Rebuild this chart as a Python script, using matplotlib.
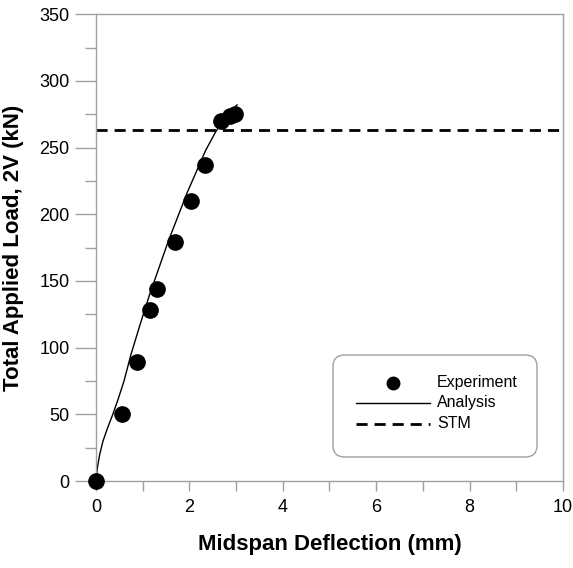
import matplotlib.pyplot as plt
from matplotlib.ticker import MultipleLocator
from matplotlib.lines import Line2D
from matplotlib.patches import FancyBboxPatch

plt.rcParams['font.family'] = ['Liberation Sans', 'DejaVu Sans']

# experiment points (deflection mm, load kN)
exp_defl = [0.0, 0.55, 0.88, 1.16, 1.31, 1.69, 2.03, 2.33, 2.68, 2.87, 2.98]
exp_load = [0.0, 50, 89, 128, 144, 179, 210, 237, 270, 274, 275]

# analysis curve
ana_defl = [0.0, 0.03, 0.08, 0.15, 0.25, 0.36, 0.48, 0.6, 0.75, 0.95, 1.15,
            1.35, 1.55, 1.75, 1.95, 2.15, 2.35, 2.55, 2.75, 3.02]
ana_load = [0.0, 10, 20, 30, 40, 50, 62, 75, 95, 118, 140,
            160, 180, 198, 216, 232, 248, 261, 272, 282]

# strut-and-tie model load
stm_load = 263

fig = plt.figure(figsize=(5.73, 5.68), dpi=100)
ax = fig.add_axes([0.1675, 0.153, 0.815, 0.822])

ax.plot(ana_defl, ana_load, color='black', lw=1.0, zorder=2)
ax.axhline(stm_load, color='black', lw=2.0, ls=(0, (4, 2.5)), zorder=2)
ax.plot(exp_defl, exp_load, 'o', color='black', ms=11, zorder=3, clip_on=False)

ax.set_xlim(0, 10)
ax.set_ylim(0, 350)
ax.xaxis.set_major_locator(MultipleLocator(2))
ax.xaxis.set_minor_locator(MultipleLocator(1))
ax.yaxis.set_major_locator(MultipleLocator(50))
ax.yaxis.set_minor_locator(MultipleLocator(25))

for s in ax.spines.values():
    s.set_color('#a0a0a0')
    s.set_linewidth(1.0)

ax.tick_params(axis='y', which='major', direction='out', length=15, width=1,
               color='#a0a0a0', labelsize=13, pad=4)
ax.tick_params(axis='y', which='minor', direction='out', length=8, width=1,
               color='#a0a0a0')
ax.tick_params(axis='x', which='major', direction='out', length=7, width=1,
               color='#a0a0a0', labelsize=13, pad=6)
ax.tick_params(axis='x', which='minor', direction='out', length=7, width=1,
               color='#a0a0a0')

ax.set_xlabel('Midspan Deflection (mm)', fontsize=16, fontweight='bold', labelpad=13)
ax.set_ylabel('Total Applied Load, 2V (kN)', fontsize=16, fontweight='bold', labelpad=11)

# legend box
box = FancyBboxPatch((333 / 573, (568 - 457) / 568), (537 - 333) / 573, (457 - 355) / 568,
                     boxstyle='round,pad=0,rounding_size=0.02', transform=fig.transFigure,
                     facecolor='white', edgecolor='#a0a0a0', lw=1.0)
fig.patches.append(box)

def fy(py):
    return (568 - py) / 568

fig.lines.append(Line2D([393 / 573], [fy(383)], marker='o', color='black', ms=9,
                        transform=fig.transFigure))
fig.lines.append(Line2D([356 / 573, 430 / 573], [fy(403), fy(403)], color='black', lw=1.0,
                        transform=fig.transFigure))
fig.lines.append(Line2D([356 / 573, 430 / 573], [fy(424), fy(424)], color='black', lw=2.0,
                        ls=(0, (4, 2.5)), transform=fig.transFigure))
for txt, py in [('Experiment', 383), ('Analysis', 403), ('STM', 424)]:
    fig.text(437 / 573, fy(py), txt, fontsize=11.5, va='center', ha='left')

fig.savefig('out.png', dpi=100)
